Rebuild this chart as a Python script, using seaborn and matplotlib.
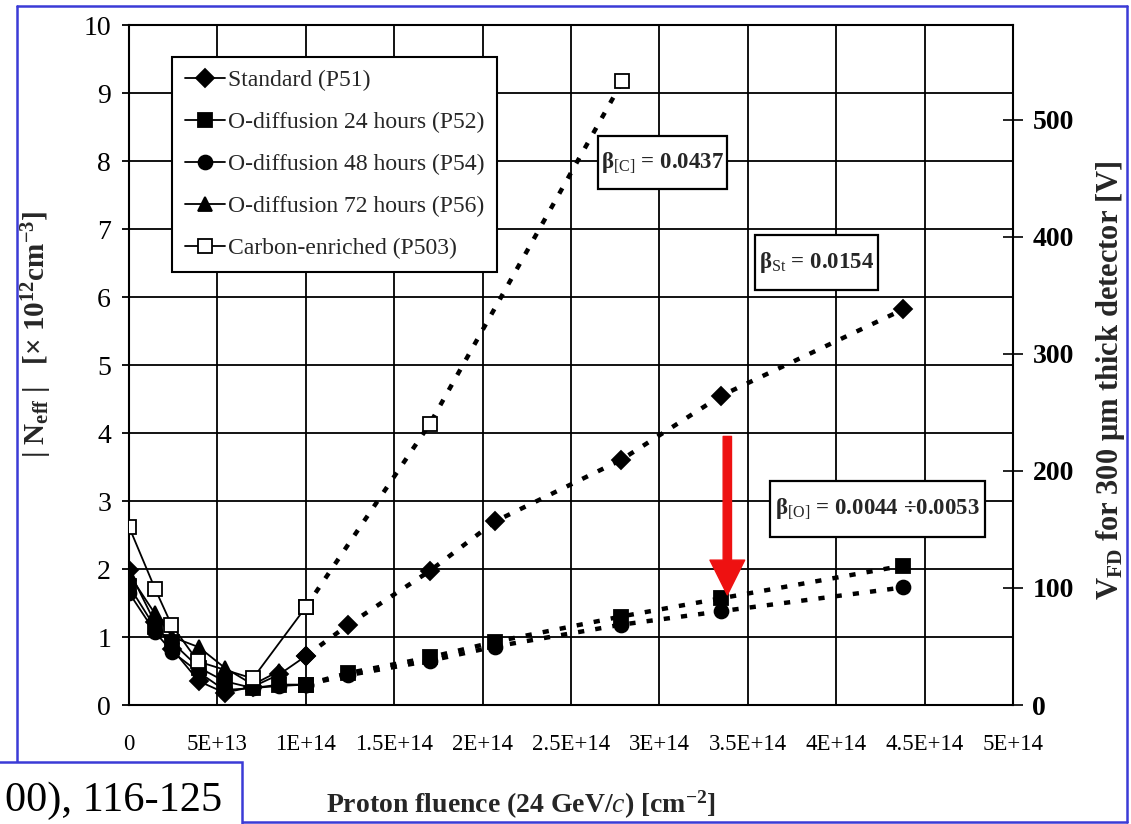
import numpy as np
import matplotlib
matplotlib.use("Agg")
import matplotlib.pyplot as plt
from matplotlib.lines import Line2D
from matplotlib.patches import Rectangle
import seaborn as sns

# Proton fluence [cm^-2] for the low- and high-fluence irradiation steps
fluence_low = [0, 1.45e13, 2.45e13, 3.95e13, 5.4e13, 7.0e13, 8.5e13, 1.0e14]
fluence_high = [1.0e14, 1.24e14, 1.70e14, 2.07e14, 2.78e14, 3.35e14, 4.38e14]
fluence_carbon_low = [0, 1.47e13, 2.4e13, 3.9e13, 7.0e13, 1.0e14]
fluence_carbon_high = [1.0e14, 1.70e14, 2.79e14]

# |Neff| [1e12 cm^-3]
neff_standard_low = [1.98, 1.22, 0.82, 0.35, 0.18, 0.27, 0.45, 0.72]
neff_standard_high = [0.72, 1.18, 1.97, 2.70, 3.60, 4.55, 5.82]
neff_o24_low = [1.75, 1.15, 0.92, 0.55, 0.35, 0.25, 0.30, 0.30]
neff_o24_high = [0.30, 0.47, 0.70, 0.93, 1.30, 1.57, 2.05]
neff_o48_low = [1.65, 1.08, 0.78, 0.48, 0.22, 0.25, 0.28, 0.30]
neff_o48_high = [0.30, 0.44, 0.65, 0.86, 1.18, 1.38, 1.73]
neff_o72_low = [1.92, 1.35, 1.00, 0.85, 0.55, 0.30, 0.50]
neff_carbon_low = [2.62, 1.71, 1.18, 0.64, 0.39, 1.44]
neff_carbon_high = [1.44, 4.13, 9.17]

series_labels = ["Standard (P51)", "O-diffusion 24 hours (P52)",
                 "O-diffusion 48 hours (P54)", "O-diffusion 72 hours (P56)",
                 "Carbon-enriched (P503)"]

x_ticks = [0, 5e13, 1e14, 1.5e14, 2e14, 2.5e14, 3e14, 3.5e14, 4e14, 4.5e14, 5e14]
x_tick_labels = ["0", "5E+13", "1E+14", "1.5E+14", "2E+14", "2.5E+14",
                 "3E+14", "3.5E+14", "4E+14", "4.5E+14", "5E+14"]
y_ticks = list(range(0, 11))
v_ticks = [0, 100, 200, 300, 400, 500]
volts_per_neff = 58.1  # full depletion voltage of a 300 um detector per 1e12 cm^-3

beta_texts = [r"β$_{\mathrm{[C]}}$ = 0.0437", r"β$_{\mathrm{St}}$ = 0.0154",
              r"β$_{\mathrm{[O]}}$ = 0.0044 ÷0.0053"]
# label centre and box extents (x0, x1, y0, y1) in data units
beta_centres = [(3.017e14, 7.97), (3.887e14, 6.51), (4.232e14, 2.88)]
beta_boxes = [(2.650e14, 3.384e14, 7.59, 8.37),
              (3.542e14, 4.237e14, 6.10, 6.91),
              (3.627e14, 4.842e14, 2.47, 3.29)]

sns.set_theme(style="white")
plt.rcParams["font.family"] = ["Liberation Serif", "DejaVu Serif"]
plt.rcParams["mathtext.fontset"] = "custom"
plt.rcParams["mathtext.rm"] = "Liberation Serif"
plt.rcParams["mathtext.it"] = "Liberation Serif:italic"
plt.rcParams["mathtext.bf"] = "Liberation Serif:bold"

fig = plt.figure(figsize=(11.31, 8.24), dpi=100)
fig.patch.set_facecolor("white")
ax = fig.add_axes([0.1141, 0.1444, 0.7816, 0.8252])
ax.set_facecolor("white")

styles = [
    dict(marker="D", markersize=9, markerfacecolor="black"),
    dict(marker="s", markersize=9.5, markerfacecolor="black"),
    dict(marker="o", markersize=10, markerfacecolor="black"),
    dict(marker="^", markersize=10, markerfacecolor="black"),
    dict(marker="s", markersize=10.5, markerfacecolor="white"),
]

solid = dict(color="black", lw=1.3, linestyle="-")
dotted = dict(color="black", lw=3.2, linestyle=(0, (1.4, 2.5)), dash_capstyle="butt")

segments = [
    (fluence_low, neff_standard_low, 0, solid, 3),
    (fluence_high, neff_standard_high, 0, dotted, 3),
    (fluence_low, neff_o24_low, 1, solid, 3),
    (fluence_high, neff_o24_high, 1, dotted, 3),
    (fluence_low, neff_o48_low, 2, solid, 3),
    (fluence_high, neff_o48_high, 2, dotted, 3),
    (fluence_low[:len(neff_o72_low)], neff_o72_low, 3, solid, 3),
    (fluence_carbon_low, neff_carbon_low, 4, solid, 5),
    (fluence_carbon_high, neff_carbon_high, 4, dotted, 5),
]
for xs, ys, idx, ls, z in segments:
    sns.lineplot(x=xs, y=ys, ax=ax, estimator=None, sort=False, legend=False,
                 markeredgecolor="black", markeredgewidth=1.3, zorder=z,
                 **ls, **styles[idx])

ax.set_xlim(0, 5e14)
ax.set_ylim(0, 10)
ax.set_xticks(x_ticks)
ax.set_xticklabels(x_tick_labels, fontsize=16.5)
ax.set_yticks(y_ticks)
ax.set_yticklabels([str(v) for v in y_ticks], fontsize=20)
ax.grid(True, color="black", lw=1.3)
ax.set_axisbelow(True)
ax.tick_params(axis="x", direction="out", length=6, width=1.3, pad=15, colors="black")
ax.tick_params(axis="y", direction="out", length=5, width=1.3, pad=8, colors="black")
for sp in ax.spines.values():
    sp.set_color("black")
    sp.set_linewidth(1.5)
    sp.set_visible(True)

ax.set_xlabel(r"Proton fluence (24 GeV/$\mathit{c}$) [cm$^{\mathbf{-2}}$]",
              fontsize=20, fontweight="bold")
ax.xaxis.set_label_coords(0.443, -0.147)
ax.xaxis.label.set_verticalalignment("center")
ax.set_ylabel(r"| N$_{\mathbf{eff}}$ |   [× 10$^{\mathbf{12}}$cm$^{\mathbf{-3}}$]",
              fontsize=21, fontweight="bold")
ax.yaxis.set_label_coords(-0.104, 0.545)
ax.yaxis.label.set_verticalalignment("center")

# depletion-voltage scale on the right
ax2 = ax.twinx()
ax2.set_ylim(0, 10 * volts_per_neff)
ax2.set_yticks(v_ticks)
ax2.set_yticklabels([str(v) for v in v_ticks], fontsize=20, fontweight="bold")
ax2.tick_params(axis="y", direction="inout", length=14, width=1.2, pad=7, colors="black")
ax2.grid(False)
for sp in ax2.spines.values():
    sp.set_visible(False)
ax2.set_ylabel(r"V$_{\mathbf{FD}}$ for 300 μm thick detector [V]",
               fontsize=22, fontweight="bold")
ax2.yaxis.set_label_coords(1.11, 0.478)
ax2.yaxis.label.set_verticalalignment("center")

# legend
handles = [Line2D([0], [0], color="black", lw=1.3, markeredgecolor="black",
                  markeredgewidth=1.3, **st) for st in styles]
leg = ax.legend(handles, series_labels, loc="upper left", bbox_to_anchor=(0.0486, 0.953),
                borderaxespad=0, fontsize=17, handlelength=1.7, handletextpad=0.12,
                labelspacing=0.86, borderpad=0.55, frameon=True, fancybox=False)
leg.get_frame().set_edgecolor("black")
leg.get_frame().set_linewidth(1.5)
leg.get_frame().set_facecolor("white")
leg.get_frame().set_alpha(1)
leg.set_zorder(10)

# fit-slope boxes
for txt, (cx, cy), (x0, x1, y0, y1) in zip(beta_texts, beta_centres, beta_boxes):
    ax.add_patch(Rectangle((x0, y0), x1 - x0, y1 - y0, fc="white", ec="black",
                           lw=1.6, zorder=8))
    ax.text(cx, cy, txt, ha="center", va="center", fontsize=16.5, fontweight="bold",
            zorder=9)

# red marker arrow
ax.annotate("", xy=(3.384e14, 1.62), xytext=(3.384e14, 3.95),
            arrowprops=dict(arrowstyle="simple,head_width=1.0,head_length=1.0,tail_width=0.24",
                            mutation_scale=25, color="#ee1111", shrinkA=0, shrinkB=0),
            zorder=9)

# slide frame and citation box
blue = "#3b3bd6"
W, H = 1131.0, 824.0
def fl(x0, y0, x1, y1):
    fig.add_artist(Line2D([x0 / W, x1 / W], [1 - y0 / H, 1 - y1 / H], color=blue,
                          lw=1.8, transform=fig.transFigure))
fl(17, 6, 1127, 6)
fl(17, 6, 17, 762)
fl(1127, 6, 1127, 822)
fl(242, 822, 1127, 822)
fig.add_artist(Rectangle((-0.01, -0.01), 242 / W + 0.01, (824 - 762) / H + 0.01,
                         transform=fig.transFigure, fc="white", ec=blue, lw=1.8, zorder=20))
fig.text(222 / W, 1 - 801 / H, "00), 116-125", ha="right", va="center", fontsize=30.5,
         color="black", zorder=21)

fig.savefig("out.png", dpi=100, facecolor="white")
